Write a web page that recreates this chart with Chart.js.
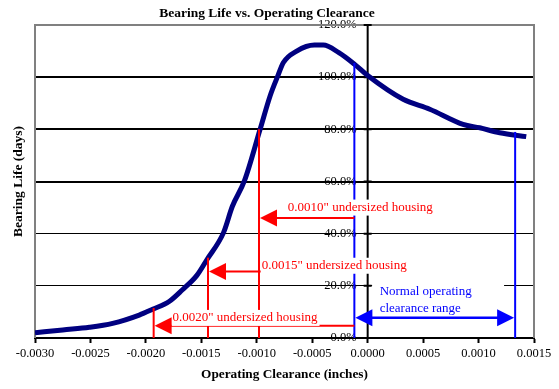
<!DOCTYPE html>
<html>
<head>
<meta charset="utf-8">
<script src="https://cdn.jsdelivr.net/npm/chart.js@4/dist/chart.umd.min.js"></script>
<style>
  body { margin: 0; background: #fff; }
  canvas { display: block; }
</style>
</head>
<body>
<canvas id="myChart" width="559" height="389"></canvas>
<script>
// curve: clearance (inches) vs bearing life (% of nominal)
const clearance = [-0.00300, -0.00275, -0.00251, -0.00230, -0.00206, -0.00194, -0.00179, -0.00167,
    -0.00154, -0.00145, -0.00130, -0.00122, -0.00111, -0.00097, -0.00088, -0.00081, -0.00076,
    -0.00064, -0.00048, -0.00040, -0.00026, -0.00012, 0.00000, 0.00032, 0.00056, 0.00086,
    0.00101, 0.00119, 0.00143];
const life = [2.0, 3.1, 4.1, 5.6, 8.8, 11.0, 14.0, 18.5,
    24.0, 30.0, 40.4, 50.5, 60.4, 80.0, 92.8, 100.5, 105.6,
    110.0, 112.3, 112.3, 109.4, 105.0, 100.6, 91.5, 87.7, 81.9,
    80.6, 78.7, 77.2];

const xTicks = [-0.0030, -0.0025, -0.0020, -0.0015, -0.0010, -0.0005, 0.0000, 0.0005, 0.0010, 0.0015];
const yTicks = [0, 20, 40, 60, 80, 100, 120];

// red markers: undersized housing cases
const undersized = ['0.0010" undersized housing', '0.0015" undersized housing', '0.0020" undersized housing'];
const undersizedX = [-0.00098, -0.00144, -0.00193];
const undersizedTop = [80, 30.8, 11.5];
const undersizedArrowY = [46, 25.5, 4.7];

// blue markers: normal operating range
const normalX = [-0.00012, 0.00133];
const normalTop = [105.4, 79];
const normalArrowY = 7.8;
const normalLabel = ['Normal operating', 'clearance range'];

const serif = 'Liberation Serif';

function arrowHead(ctx, tipX, tipY, dir, color) {
    ctx.fillStyle = color;
    ctx.beginPath();
    ctx.moveTo(tipX, tipY);
    ctx.lineTo(tipX + dir * 17, tipY - 8.5);
    ctx.lineTo(tipX + dir * 17, tipY + 8.5);
    ctx.closePath();
    ctx.fill();
}

function textBox(ctx, text, left, cy, color) {
    const w = ctx.measureText(text).width;
    ctx.fillStyle = '#fff';
    ctx.fillRect(left - 1, cy - 8, w + 3, 16);
    ctx.fillStyle = color;
    ctx.fillText(text, left, cy);
}

// plot frame plus the y axis line crossing at x = 0
const frame = {
    id: 'frame',
    beforeDatasetsDraw(chart) {
        const {ctx, chartArea: a} = chart;
        const x = chart.scales.x, y = chart.scales.y;
        ctx.save();
        ctx.strokeStyle = '#808080';
        ctx.lineWidth = 2;
        ctx.beginPath();
        ctx.moveTo(a.left, a.bottom);
        ctx.lineTo(a.left, a.top);
        ctx.lineTo(a.right, a.top);
        ctx.lineTo(a.right, a.bottom);
        ctx.stroke();

        const x0 = x.getPixelForValue(0);
        ctx.strokeStyle = '#000';
        ctx.beginPath();
        ctx.moveTo(x0, a.top);
        ctx.lineTo(x0, a.bottom);
        yTicks.forEach(v => {
            const py = y.getPixelForValue(v);
            ctx.moveTo(x0 - 4, py);
            ctx.lineTo(x0 + 4, py);
        });
        ctx.stroke();
        ctx.restore();
    }
};

const annotate = {
    id: 'annotate',
    afterDatasetsDraw(chart) {
        const {ctx} = chart;
        const x = chart.scales.x, y = chart.scales.y;
        ctx.save();
        ctx.font = '13px "' + serif + '"';
        ctx.textBaseline = 'middle';
        ctx.textAlign = 'left';

        // blue verticals
        ctx.strokeStyle = '#0000ff';
        ctx.lineWidth = 2;
        normalX.forEach((v, i) => {
            ctx.beginPath();
            ctx.moveTo(x.getPixelForValue(v), y.getPixelForValue(normalTop[i]));
            ctx.lineTo(x.getPixelForValue(v), y.getPixelForValue(0));
            ctx.stroke();
        });

        // red drops and arrows
        ctx.strokeStyle = '#ff0000';
        const xEnd = x.getPixelForValue(normalX[0]);
        undersizedX.forEach((v, i) => {
            const px = x.getPixelForValue(v);
            ctx.beginPath();
            ctx.moveTo(px, y.getPixelForValue(undersizedTop[i]));
            ctx.lineTo(px, y.getPixelForValue(0));
            ctx.stroke();
            const py = y.getPixelForValue(undersizedArrowY[i]);
            ctx.beginPath();
            ctx.moveTo(px + 10, py);
            ctx.lineTo(xEnd, py);
            ctx.stroke();
        });

        // label boxes (white filled, they hide lines behind them)
        const labelX = [-0.00072, -0.000956, -0.00176];
        const labelY = [50, 27.7, 7.7];
        undersized.forEach((t, i) => {
            textBox(ctx, t, x.getPixelForValue(labelX[i]), y.getPixelForValue(labelY[i]), '#ff0000');
        });
        undersizedX.forEach((v, i) => {
            arrowHead(ctx, x.getPixelForValue(v) + 1, y.getPixelForValue(undersizedArrowY[i]), 1, '#ff0000');
        });

        // normal range box, arrow and text
        const bx1 = x.getPixelForValue(0.00004), bx2 = x.getPixelForValue(0.00123);
        const by1 = y.getPixelForValue(22), by2 = y.getPixelForValue(8.8);
        ctx.fillStyle = '#fff';
        ctx.fillRect(bx1, by1, bx2 - bx1, by2 - by1);
        ctx.fillStyle = '#0000ff';
        ctx.fillText(normalLabel[0], x.getPixelForValue(0.000108), y.getPixelForValue(17.7));
        ctx.fillText(normalLabel[1], x.getPixelForValue(0.000108), y.getPixelForValue(11.2));

        const l = x.getPixelForValue(normalX[0]), r = x.getPixelForValue(normalX[1]);
        const ay = y.getPixelForValue(normalArrowY);
        ctx.strokeStyle = '#0000ff';
        ctx.lineWidth = 2.5;
        ctx.beginPath();
        ctx.moveTo(l + 10, ay);
        ctx.lineTo(r - 10, ay);
        ctx.stroke();
        arrowHead(ctx, l + 1, ay, 1, '#0000ff');
        arrowHead(ctx, r - 1, ay, -1, '#0000ff');
        ctx.restore();
    }
};

const ctx = document.getElementById('myChart').getContext('2d');
const chart = new Chart(ctx, {
    type: 'line',
    data: {
        datasets: [{
            label: 'Bearing Life',
            data: clearance.map((c, i) => ({x: c, y: life[i]})),
            borderColor: '#000080',
            borderWidth: 5,
            pointRadius: 0,
            cubicInterpolationMode: 'monotone',
            fill: false
        }]
    },
    options: {
        responsive: false,
        animation: false,
        devicePixelRatio: 1,
        layout: { padding: { right: 25, left: 0, top: 0, bottom: 0 } },
        plugins: {
            legend: { display: false },
            tooltip: { enabled: false },
            title: {
                display: true,
                text: 'Bearing Life vs. Operating Clearance',
                color: '#000',
                font: { family: serif, size: 13.5, weight: 'bold' },
                padding: { top: 5, bottom: 3.8 }
            }
        },
        scales: {
            x: {
                type: 'linear',
                position: 'bottom',
                min: -0.003,
                max: 0.0015,
                afterBuildTicks: s => { s.ticks = xTicks.map(v => ({value: v})); },
                afterFit: s => { s.height = 51; },
                grid: {
                    drawOnChartArea: false,
                    drawTicks: true,
                    tickLength: 5,
                    tickWidth: 2,
                    tickColor: '#000'
                },
                border: { display: true, color: '#000', width: 2 },
                ticks: {
                    color: '#000',
                    font: { family: serif, size: 12.5 },
                    padding: 3,
                    maxRotation: 0,
                    callback: v => v.toFixed(4)
                },
                title: {
                    display: true,
                    text: 'Operating Clearance (inches)',
                    color: '#000',
                    font: { family: serif, size: 13.3, weight: 'bold' },
                    padding: { top: 0, bottom: 6 }
                }
            },
            y: {
                type: 'linear',
                // labels sit just left of the x = 0 axis line
                position: { x: -0.0001 },
                min: 0,
                max: 120,
                afterBuildTicks: s => { s.ticks = yTicks.map(v => ({value: v})); },
                afterFit: s => { s.width = 0; },
                grid: {
                    color: '#000',
                    lineWidth: c => (c.tick.value === 0 || c.tick.value === 120) ? 0 : (c.tick.value >= 60 ? 2 : 1),
                    drawTicks: false
                },
                border: { display: false },
                ticks: {
                    color: '#000',
                    font: { family: serif, size: 12.5 },
                    callback: v => v.toFixed(1) + '%'
                }
            },
            yl: {
                type: 'linear',
                position: 'left',
                min: 0,
                max: 120,
                afterFit: s => { s.width = 35; },
                grid: { display: false },
                border: { display: false },
                ticks: { display: false },
                title: {
                    display: true,
                    text: 'Bearing Life (days)',
                    color: '#000',
                    font: { family: serif, size: 13.5, weight: 'bold' },
                    padding: { top: 10, bottom: 0 }
                }
            }
        }
    },
    plugins: [frame, annotate]
});
</script>
</body>
</html>
